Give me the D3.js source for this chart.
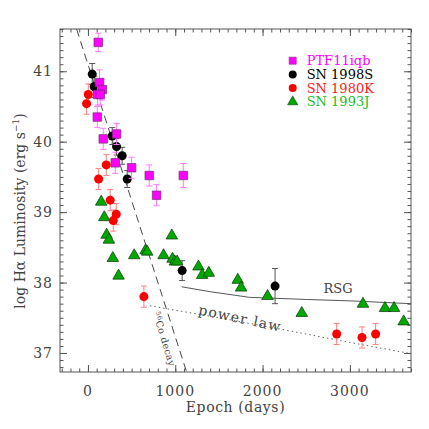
<!DOCTYPE html>
<html>
<head>
<meta charset="utf-8">
<script src="https://cdn.jsdelivr.net/npm/d3@7"></script>
<style>
  body { margin: 0; background: #fff; }
  text { font-family: "DejaVu Serif", "Liberation Serif", serif; }
</style>
</head>
<body>
<div id="chart"></div>
<script>
// PTF11iqb (magenta squares)
const ptfDays = [118, 133, 164, 111, 141, 107, 175, 328, 313, 500, 702, 1092, 786];
const ptfLum  = [41.41, 40.84, 40.74, 40.67, 40.67, 40.35, 40.04, 40.11, 39.70, 39.63, 39.52, 39.52, 39.24];
const ptfErr  = [0.13, 0.18, 0.15, 0.15, 0.15, 0.15, 0.15, 0.15, 0.15, 0.15, 0.15, 0.17, 0.15];

// SN 1998S (black circles)
const s98Days = [49, 72, 278, 328, 392, 450, 1079, 2143];
const s98Lum  = [40.96, 40.78, 40.08, 39.93, 39.80, 39.47, 38.17, 37.95];
const s98Err  = [0.15, 0.15, 0.12, 0.12, 0.12, 0.12, 0.14, 0.25];

// SN 1980K (red circles)
const s80Days = [4, -16, 210, 122, 255, 324, 290, 641, 2849, 3139, 3295];
const s80Lum  = [40.67, 40.54, 39.67, 39.47, 39.17, 38.97, 38.88, 37.80, 37.27, 37.22, 37.27];
const s80Err  = [0.15, 0.15, 0.15, 0.15, 0.15, 0.15, 0.15, 0.15, 0.15, 0.15, 0.15];

// SN 1993J (green triangles)
const s93Days = [152, 187, 214, 240, 285, 351, 530, 660, 679, 866, 961, 969, 995, 1022, 1266, 1308, 1384, 1716, 1754, 2056, 2449, 3150, 3402, 3506, 3616];
const s93Lum  = [39.16, 38.94, 38.69, 38.62, 38.36, 38.11, 38.40, 38.47, 38.45, 38.40, 38.68, 38.35, 38.31, 38.31, 38.24, 38.12, 38.15, 38.05, 37.94, 37.82, 37.58, 37.71, 37.65, 37.65, 37.46];

// model curves
const coDays  = [-130, 1130];
const coLum   = [41.6, 36.73];
const rsgDays = [1072, 1400, 1850, 2500, 3000, 3700];
const rsgLum  = [37.94, 37.87, 37.79, 37.76, 37.74, 37.70];
const plDays  = [709, 1500, 2200, 3000, 3700];
const plLum   = [37.67, 37.50, 37.34, 37.15, 36.99];

const xTicks = [0, 1000, 2000, 3000];
const yTicks = [37, 38, 39, 40, 41];
const legendNames = ["PTF11iqb", "SN 1998S", "SN 1980K", "SN 1993J"];

const W = 429, H = 429;
const mLeft = 60, mRight = 411, mTop = 29, mBottom = 372;
const txtCol = "#444";

const svg = d3.select("#chart").append("svg")
    .attr("width", W).attr("height", H);

const x = d3.scaleLinear().domain([-320, 3700]).range([mLeft, mRight]);
const y = d3.scaleLinear().domain([36.73, 41.6]).range([mBottom, mTop]);

svg.append("clipPath").attr("id", "clip")
  .append("rect").attr("x", mLeft).attr("y", mTop)
  .attr("width", mRight - mLeft).attr("height", mBottom - mTop);

// axes, ticks inward on all four sides
const axisCol = "#555";
const xMinor = d3.range(-300, 3701, 100);
const yMinor = d3.range(36.8, 41.61, 0.1).map(v => +v.toFixed(1));
function addAxis(gen, tr, vals, size) {
  svg.append("g").attr("transform", tr)
    .call(gen.tickValues(vals).tickSize(size).tickFormat(""))
    .call(g => g.select(".domain").remove())
    .call(g => g.selectAll("line").attr("stroke", axisCol));
}
addAxis(d3.axisBottom(x), `translate(0,${mBottom})`, xMinor, -3.5);
addAxis(d3.axisBottom(x), `translate(0,${mBottom})`, xTicks, -7);
addAxis(d3.axisTop(x), `translate(0,${mTop})`, xMinor, -3.5);
addAxis(d3.axisTop(x), `translate(0,${mTop})`, xTicks, -7);
addAxis(d3.axisLeft(y), `translate(${mLeft},0)`, yMinor, -3.5);
addAxis(d3.axisLeft(y), `translate(${mLeft},0)`, yTicks, -7);
addAxis(d3.axisRight(y), `translate(${mRight},0)`, yMinor, -3.5);
addAxis(d3.axisRight(y), `translate(${mRight},0)`, yTicks, -7);

svg.append("rect")
  .attr("x", mLeft).attr("y", mTop)
  .attr("width", mRight - mLeft).attr("height", mBottom - mTop)
  .attr("fill", "none").attr("stroke", axisCol).attr("stroke-width", 1);

svg.selectAll(".xl").data(xTicks).join("text")
  .attr("x", d => x(d)).attr("y", 396)
  .attr("text-anchor", "middle").attr("font-size", 14)
  .attr("letter-spacing", 1).attr("fill", txtCol)
  .text(d => d);
svg.selectAll(".yl").data(yTicks).join("text")
  .attr("x", 53).attr("y", d => y(d)).attr("dy", "0.36em")
  .attr("text-anchor", "end").attr("font-size", 14)
  .attr("letter-spacing", 1).attr("fill", txtCol)
  .text(d => d);

svg.append("text")
  .attr("x", (mLeft + mRight) / 2).attr("y", 412)
  .attr("text-anchor", "middle").attr("font-size", 14)
  .attr("letter-spacing", 0.6).attr("fill", txtCol)
  .text("Epoch (days)");

const yl = svg.append("text")
  .attr("transform", "translate(25,211) rotate(-90)")
  .attr("text-anchor", "middle").attr("font-size", 14)
  .attr("fill", txtCol);
yl.append("tspan").text("log Hα Luminosity (erg s");
yl.append("tspan").attr("dy", -6).attr("font-size", 9).text("−1");
yl.append("tspan").attr("dy", 6).text(")");

// model lines
const plot = svg.append("g").attr("clip-path", "url(#clip)");
const line = d3.line().x(d => x(d[0])).y(d => y(d[1]));
plot.append("path").datum(d3.zip(coDays, coLum))
  .attr("d", line).attr("fill", "none")
  .attr("stroke", "#333").attr("stroke-width", 0.9)
  .attr("stroke-dasharray", "8,5");
plot.append("path").datum(d3.zip(rsgDays, rsgLum))
  .attr("d", line).attr("fill", "none")
  .attr("stroke", "#444").attr("stroke-width", 0.9);
plot.append("path").datum(d3.zip(plDays, plLum))
  .attr("d", line).attr("fill", "none")
  .attr("stroke", "#555").attr("stroke-width", 0.9)
  .attr("stroke-dasharray", "1.5,3");

svg.append("text")
  .attr("x", 338).attr("y", 293)
  .attr("text-anchor", "middle").attr("font-size", 13)
  .attr("fill", txtCol).text("RSG");
svg.append("text")
  .attr("transform", "translate(239,323) rotate(12)")
  .attr("text-anchor", "middle").attr("font-size", 14)
  .attr("letter-spacing", 1.2).attr("fill", txtCol).text("power law");
const co = svg.append("text")
  .attr("transform", "translate(161,340) rotate(73)")
  .attr("text-anchor", "middle").attr("font-size", 9.5)
  .attr("letter-spacing", 0.4).attr("fill", txtCol);
co.append("tspan").attr("font-size", 6.5).attr("dy", -3).text("56");
co.append("tspan").attr("dy", 3).text("Co decay");

// error bars
function errBars(days, lum, err, col) {
  const g = plot.append("g").attr("stroke", col).attr("stroke-width", 1);
  days.forEach((d, i) => {
    const cx = x(d), y0 = y(lum[i] - err[i]), y1 = y(lum[i] + err[i]);
    g.append("line").attr("x1", cx).attr("x2", cx).attr("y1", y0).attr("y2", y1);
    g.append("line").attr("x1", cx - 3).attr("x2", cx + 3).attr("y1", y0).attr("y2", y0);
    g.append("line").attr("x1", cx - 3).attr("x2", cx + 3).attr("y1", y1).attr("y2", y1);
  });
}

const tri = d3.symbol().type(d3.symbolTriangle).size(58);
const sq = d3.symbol().type(d3.symbolSquare).size(72);
const circ = d3.symbol().type(d3.symbolCircle).size(64);

// SN 1993J
plot.append("g").selectAll("path").data(d3.zip(s93Days, s93Lum)).join("path")
  .attr("transform", d => `translate(${x(d[0])},${y(d[1]) + 1})`)
  .attr("d", tri).attr("fill", "#00a800").attr("stroke", "#0a3a0a").attr("stroke-width", 0.7);

// SN 1980K
errBars(s80Days, s80Lum, s80Err, "#ff8080");
plot.append("g").selectAll("path").data(d3.zip(s80Days, s80Lum)).join("path")
  .attr("transform", d => `translate(${x(d[0])},${y(d[1])})`)
  .attr("d", circ).attr("fill", "#ff0000");

// SN 1998S
errBars(s98Days, s98Lum, s98Err, "#555");
plot.append("g").selectAll("path").data(d3.zip(s98Days, s98Lum)).join("path")
  .attr("transform", d => `translate(${x(d[0])},${y(d[1])})`)
  .attr("d", circ).attr("fill", "#000");

// PTF11iqb
errBars(ptfDays, ptfLum, ptfErr, "#ff77ff");
plot.append("g").selectAll("path").data(d3.zip(ptfDays, ptfLum)).join("path")
  .attr("transform", d => `translate(${x(d[0])},${y(d[1])})`)
  .attr("d", sq).attr("fill", "#ff00ff").attr("stroke", "#7a2a7a").attr("stroke-width", 0.7);

// legend
const legCols = ["#ff00ff", "#000000", "#ff1a1a", "#22bb22"];
const legSyms = [
  d3.symbol().type(d3.symbolSquare).size(50),
  d3.symbol().type(d3.symbolCircle).size(50),
  d3.symbol().type(d3.symbolCircle).size(50),
  d3.symbol().type(d3.symbolTriangle).size(45)
];
const legFill = ["#ff00ff", "#000", "#ff0000", "#00a800"];
legendNames.forEach((name, i) => {
  const ly = 60.7 + i * 13.7;
  svg.append("path").attr("transform", `translate(292.7,${ly})`)
    .attr("d", legSyms[i]).attr("fill", legFill[i])
    .attr("stroke", i === 0 ? "#7a2a7a" : (i === 3 ? "#0a3a0a" : "none")).attr("stroke-width", 0.6);
  svg.append("text").attr("x", 306.7).attr("y", ly + 4.5)
    .attr("font-size", 13).attr("fill", legCols[i]).text(name);
});
</script>
</body>
</html>
